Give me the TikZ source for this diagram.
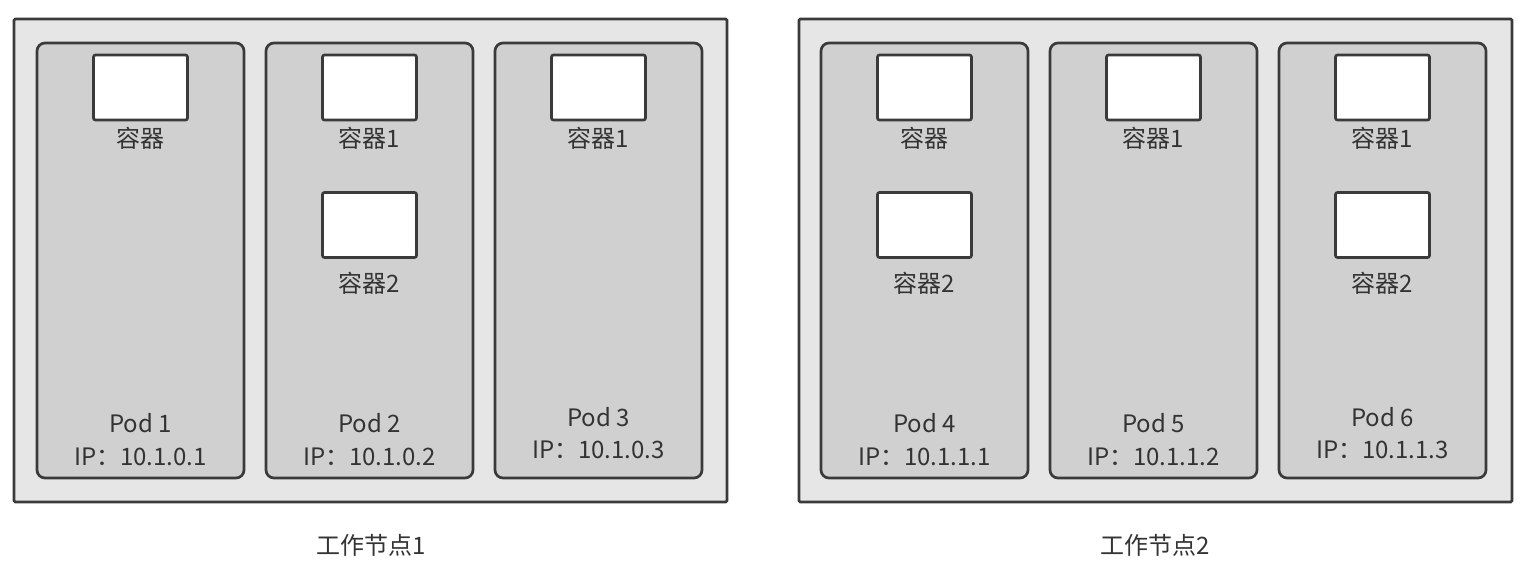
\documentclass[tikz,border=0pt]{standalone}
\usepackage{fontspec}
\setmainfont{Noto Sans CJK SC}
\begin{document}
\begin{tikzpicture}[x=0.75pt,y=-0.75pt,
  every node/.style={inner sep=0pt,outer sep=0pt},
  worker/.style={draw=edge,fill=nodefill,line width=2pt,rounded corners=1pt,
    minimum width=534.75pt,minimum height=362.25pt},
  pod/.style={draw=edge,fill=podfill,line width=2pt,rounded corners=6pt,
    minimum width=155.25pt,minimum height=326.25pt},
  ctr/.style={draw=edge,fill=white,line width=2pt,rounded corners=1.5pt,
    minimum width=70.5pt,minimum height=48.75pt},
  lbl/.style={text=txt,font=\fontsize{18}{20}\selectfont},
]
\definecolor{edge}{HTML}{3A3A3A}
\definecolor{nodefill}{HTML}{E6E6E6}
\definecolor{podfill}{HTML}{D0D0D0}
\definecolor{txt}{HTML}{333333}
\useasboundingbox (0,0) rectangle (1528,578);

% worker nodes
\node[worker] (w1) at (370.5,260.5) {};
\node[worker] (w2) at (1155.5,260.5) {};
\node[lbl] (w1l) at (371,545) {工作节点1};
\node[lbl] (w2l) at (1155,545) {工作节点2};

% pods
\node[pod] (p1) at (140.5,260.5) {};
\node[pod] (p2) at (369.5,260.5) {};
\node[pod] (p3) at (598.5,260.5) {};
\node[pod] (p4) at (924.5,260.5) {};
\node[pod] (p5) at (1153.5,260.5) {};
\node[pod] (p6) at (1382.5,260.5) {};

% containers
\node[ctr] (c1a) at (140.5,87.5) {};
\node[lbl] at (140.5,138) {容器};
\node[ctr] (c2a) at (369.5,87.5) {};
\node[lbl] at (369.5,138) {容器1};
\node[ctr] (c2b) at (369.5,225) {};
\node[lbl] at (369.5,283) {容器2};
\node[ctr] (c3a) at (598.5,87.5) {};
\node[lbl] at (598.5,138) {容器1};

\node[ctr] (c4a) at (924.5,87.5) {};
\node[lbl] at (924.5,138) {容器};
\node[ctr] (c4b) at (924.5,225) {};
\node[lbl] at (924.5,283) {容器2};
\node[ctr] (c5a) at (1153.5,87.5) {};
\node[lbl] at (1153.5,138) {容器1};
\node[ctr] (c6a) at (1382.5,87.5) {};
\node[lbl] at (1382.5,138) {容器1};
\node[ctr] (c6b) at (1382.5,225) {};
\node[lbl] at (1382.5,283) {容器2};

% pod names and addresses
\node[lbl] at (140.5,423) {Pod 1};
\node[lbl] at (140.5,457) {IP：10.1.0.1};
\node[lbl] at (369.5,423) {Pod 2};
\node[lbl] at (369.5,457) {IP：10.1.0.2};
\node[lbl] at (598.5,417) {Pod 3};
\node[lbl] at (598.5,450) {IP：10.1.0.3};
\node[lbl] at (924.5,423) {Pod 4};
\node[lbl] at (924.5,457) {IP：10.1.1.1};
\node[lbl] at (1153.5,423) {Pod 5};
\node[lbl] at (1153.5,457) {IP：10.1.1.2};
\node[lbl] at (1382.5,417) {Pod 6};
\node[lbl] at (1382.5,450) {IP：10.1.1.3};
\end{tikzpicture}
\end{document}
